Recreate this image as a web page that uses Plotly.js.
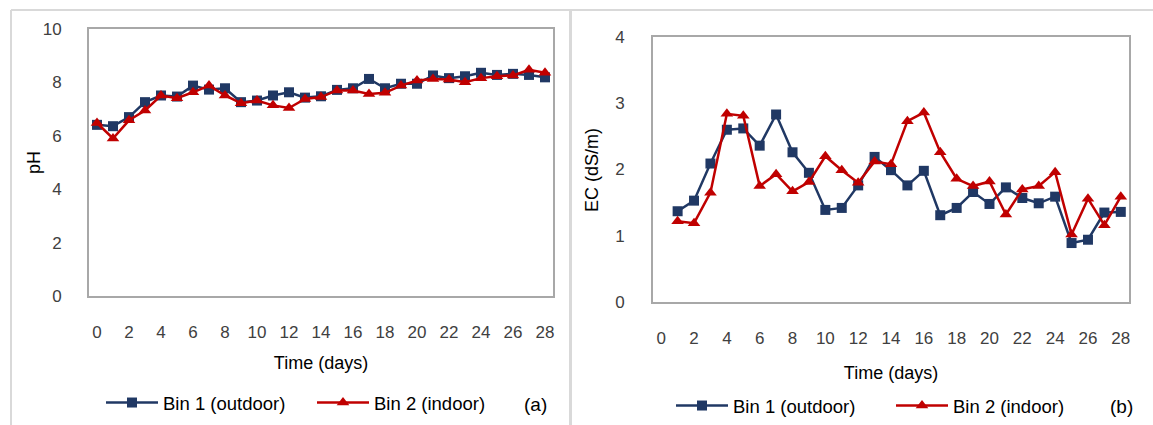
<!DOCTYPE html>
<html><head><meta charset="utf-8">
<script src="https://cdn.plot.ly/plotly-3.0.1.min.js"></script>
<style>html,body{margin:0;padding:0;background:#fff}#chart{width:1153px;height:425px}</style>
</head><body><div id="chart"></div>
<script>
// ---- data ----
const phDays = [0,1,2,3,4,5,6,7,8,9,10,11,12,13,14,15,16,17,18,19,20,21,22,23,24,25,26,27,28];
const phBin1 = [6.41,6.36,6.70,7.26,7.51,7.47,7.88,7.73,7.78,7.26,7.32,7.51,7.63,7.43,7.48,7.72,7.78,8.13,7.78,7.95,7.95,8.26,8.16,8.23,8.36,8.28,8.32,8.28,8.19];
const phBin2 = [6.48,5.90,6.58,6.95,7.51,7.41,7.63,7.88,7.51,7.22,7.32,7.14,7.04,7.38,7.45,7.70,7.70,7.57,7.61,7.88,8.07,8.13,8.11,8.01,8.16,8.23,8.26,8.47,8.36];
const ecDays = [1,2,3,4,5,6,7,8,9,10,11,12,13,14,15,16,17,18,19,20,21,22,23,24,25,26,27,28];
const ecBin1 = [1.37,1.53,2.09,2.60,2.62,2.36,2.83,2.26,1.95,1.39,1.42,1.76,2.19,1.99,1.76,1.98,1.31,1.42,1.66,1.48,1.73,1.57,1.49,1.59,0.89,0.94,1.35,1.36];
const ecBin2 = [1.22,1.19,1.65,2.84,2.81,1.75,1.93,1.67,1.81,2.20,1.99,1.80,2.12,2.08,2.73,2.86,2.26,1.86,1.75,1.82,1.32,1.70,1.75,1.96,1.02,1.56,1.16,1.59];
const xTicks = [0,2,4,6,8,10,12,14,16,18,20,22,24,26,28];
const phTicks = [0,2,4,6,8,10];
const ecTicks = [0,1,2,3,4];
const seriesNames = ['Bin 1 (outdoor)', 'Bin 2 (indoor)'];
const xTitle = 'Time (days)';
const phTitle = 'pH';
const ecTitle = 'EC (dS/m)';
const panelLabels = ['(a)', '(b)'];

// ---- layout helpers ----
const W = 1153, H = 425;
const fx = x => x / W;
const fy = y => 1 - y / H;
const BLUE = '#203864', RED = '#c00000';
const FONT = 'Liberation Sans, Arial, sans-serif';

function series(x, y, name, color, symbol, xa, ya, leg) {
  return {
    x: x, y: y, name: name, type: 'scatter', mode: 'lines+markers',
    xaxis: xa, yaxis: ya, legend: leg, showlegend: true,
    line: {color: color, width: 2.5},
    marker: {color: color, symbol: symbol, size: symbol === 'square' ? 10 : 11}
  };
}

const data = [
  series(phDays, phBin1, seriesNames[0], BLUE, 'square', 'x', 'y', 'legend'),
  series(phDays, phBin2, seriesNames[1], RED, 'triangle-up', 'x', 'y', 'legend'),
  series(ecDays, ecBin1, seriesNames[0], BLUE, 'square', 'x2', 'y2', 'legend2'),
  series(ecDays, ecBin2, seriesNames[1], RED, 'triangle-up', 'x2', 'y2', 'legend2')
];

const axCommon = {
  showgrid: false, zeroline: false, showline: true, mirror: true,
  linecolor: '#a8a8a8', linewidth: 2, ticks: '',
  tickfont: {family: FONT, size: 17, color: '#404040'}
};
const titleFont = {family: FONT, size: 18, color: '#000'};
const legFont = {family: FONT, size: 18.5, color: '#000'};

const layout = {
  width: W, height: H,
  margin: {l: 0, r: 0, t: 0, b: 0},
  paper_bgcolor: '#fff', plot_bgcolor: '#fff',
  font: {family: FONT},
  xaxis: Object.assign({}, axCommon, {
    domain: [fx(89), fx(553)], range: [-0.5, 28.5], anchor: 'y',
    tickmode: 'array', tickvals: xTicks, ticklabelstandoff: 20,
    title: {text: xTitle, font: titleFont, standoff: 15}
  }),
  yaxis: Object.assign({}, axCommon, {
    domain: [fy(296), fy(29)], range: [0, 10], anchor: 'x',
    tickmode: 'array', tickvals: phTicks, ticklabelstandoff: 22
  }),
  xaxis2: Object.assign({}, axCommon, {
    domain: [fx(653), fx(1129)], range: [-0.5, 28.5], anchor: 'y2',
    tickmode: 'array', tickvals: xTicks, ticklabelstandoff: 20,
    title: {text: xTitle, font: titleFont, standoff: 19}
  }),
  yaxis2: Object.assign({}, axCommon, {
    domain: [fy(302), fy(37)], range: [0, 4], anchor: 'x2',
    tickmode: 'array', tickvals: ecTicks, ticklabelstandoff: 23
  }),
  legend: {
    orientation: 'h', x: fx(101), xanchor: 'left', y: fy(403), yanchor: 'middle',
    font: legFont, itemwidth: 52, entrywidth: 144,
    bgcolor: 'rgba(0,0,0,0)', tracegroupgap: 0, traceorder: 'normal'
  },
  legend2: {
    orientation: 'h', x: fx(671), xanchor: 'left', y: fy(406), yanchor: 'middle',
    font: legFont, itemwidth: 52, entrywidth: 153,
    bgcolor: 'rgba(0,0,0,0)', tracegroupgap: 0, traceorder: 'normal'
  },
  annotations: [
    {text: phTitle, xref: 'paper', yref: 'paper', x: fx(34), y: fy(163), textangle: -90,
     xanchor: 'center', yanchor: 'middle', showarrow: false, font: titleFont},
    {text: ecTitle, xref: 'paper', yref: 'paper', x: fx(592), y: fy(170), textangle: -90,
     xanchor: 'center', yanchor: 'middle', showarrow: false, font: titleFont},
    {text: panelLabels[0], xref: 'paper', yref: 'paper', x: fx(535), y: fy(404),
     xanchor: 'center', yanchor: 'middle', showarrow: false, font: {family: FONT, size: 19, color: '#000'}},
    {text: panelLabels[1], xref: 'paper', yref: 'paper', x: fx(1121), y: fy(406),
     xanchor: 'center', yanchor: 'middle', showarrow: false, font: {family: FONT, size: 19, color: '#000'}}
  ],
  shapes: [
    {type: 'line', xref: 'paper', yref: 'paper', x0: fx(11), x1: fx(1153), y0: fy(10), y1: fy(10), line: {color: '#d9d9d9', width: 2}},
    {type: 'line', xref: 'paper', yref: 'paper', x0: fx(11), x1: fx(11), y0: fy(10), y1: fy(425), line: {color: '#d9d9d9', width: 2}},
    {type: 'line', xref: 'paper', yref: 'paper', x0: fx(570.5), x1: fx(570.5), y0: fy(10), y1: fy(425), line: {color: '#d9d9d9', width: 3}}
  ]
};

Plotly.newPlot('chart', data, layout, {displayModeBar: false, staticPlot: true});
</script>
</body></html>
